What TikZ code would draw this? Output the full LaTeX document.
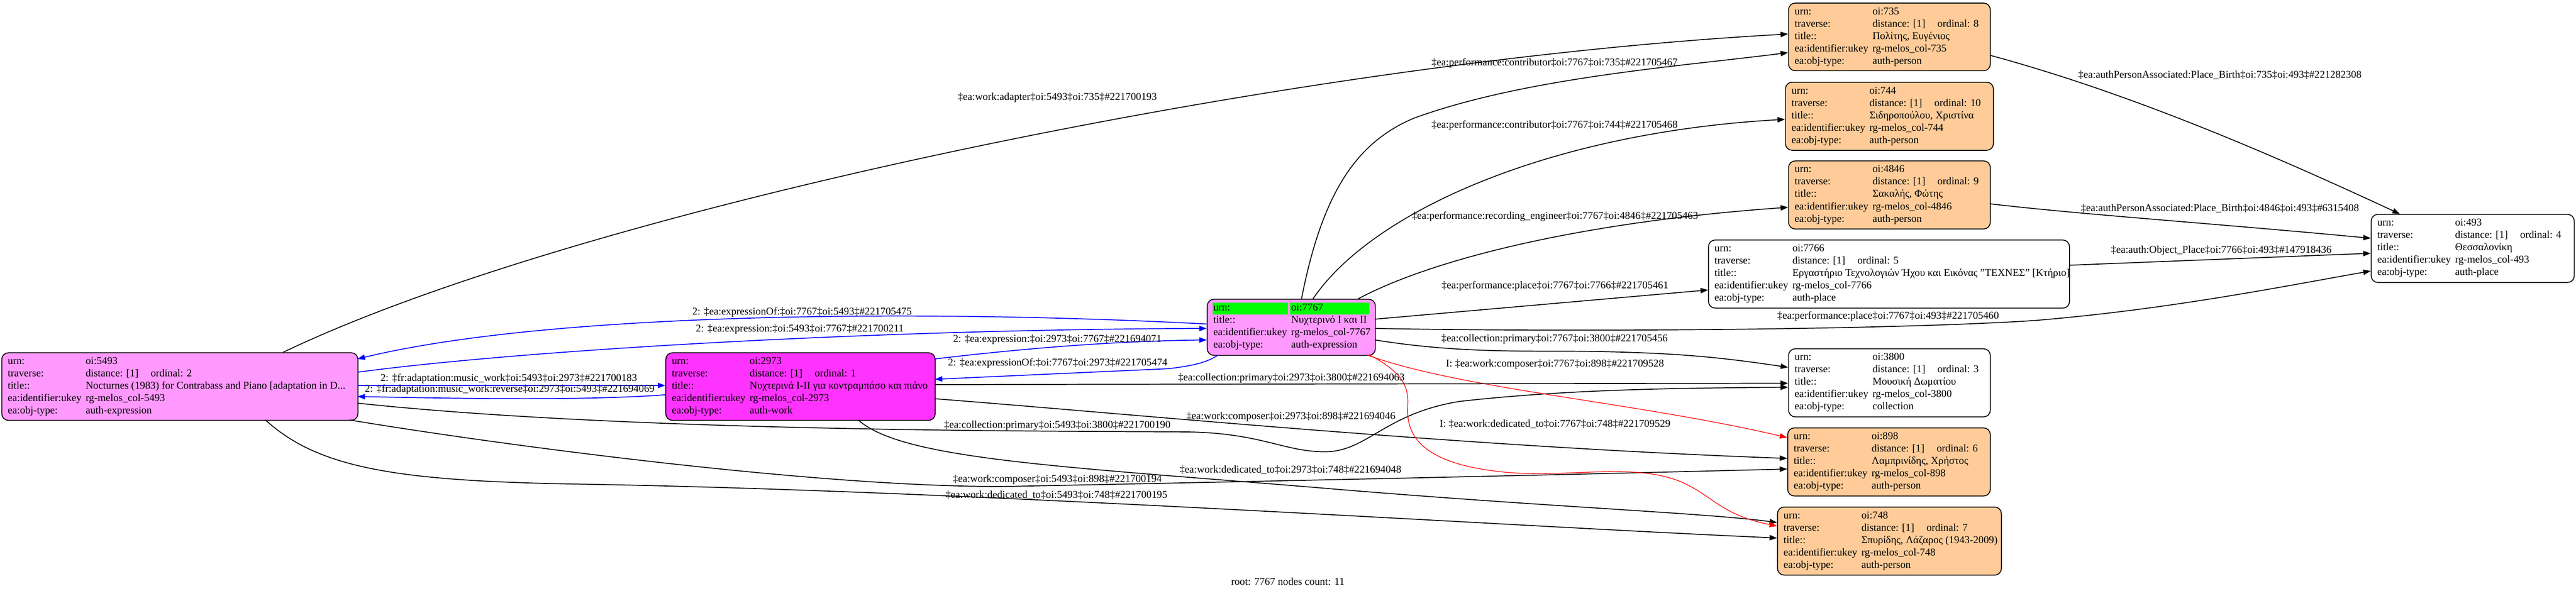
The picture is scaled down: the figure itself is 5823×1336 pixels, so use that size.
\documentclass[tikz,border=0pt]{standalone}
\usepackage{fontspec}
\setmainfont{Liberation Serif}
\usetikzlibrary{arrows.meta,calc}
\definecolor{peach}{HTML}{FFCC99}
\definecolor{pinkx}{HTML}{FF99FF}
\definecolor{magx}{HTML}{FF33FF}
\definecolor{greenx}{HTML}{00FF00}
\newcommand\gfont{\fontsize{6.72pt}{8pt}\selectfont}
\tikzset{
  box/.style={draw=black, line width=0.2mm, rounded corners=1.5mm, inner sep=0pt, anchor=north west},
  txt/.style={anchor=west, inner sep=0pt, font=\gfont, text height=1.65mm, text depth=0.45mm},
  lbl/.style={inner sep=0pt, font=\gfont, text height=1.65mm, text depth=0.45mm},
  ed/.style={line width=0.2mm, draw=black, -{Triangle[length=1.7mm,width=1.2mm]}},
  edb/.style={ed, draw=blue},
  edr/.style={ed, draw=red, line width=0.15mm},
}
\newcommand\gbox[6]{\node[box,fill=#2,minimum width=#5mm,minimum height=#6mm] (#1) at (#3,#4) {};}
\newcommand\rowt[4]{%
  \node[txt] at ($(#1.north west)+(14,{21+28*#2})$) {#3};
  \node[txt] at ($(#1.north west)+(190,{21+28*#2})$) {#4};}
\newcommand\travrow[3]{%
  \node[txt] at ($(#1.north west)+(14,{21+28*#2})$) {traverse:};
  \node[txt] at ($(#1.north west)+(190,{21+28*#2})$) {distance: [1]};
  \node[txt] at ($(#1.north west)+(337,{21+28*#2})$) {ordinal: #3};}
\begin{document}
\begin{tikzpicture}[x=0.1mm,y=-0.1mm]
\useasboundingbox (0,0) rectangle (5823,1336);
% ---------------- boxes ----------------
\gbox{n5493}{pinkx}{3}{797}{80.5}{15.3}
\gbox{n2973}{magx}{1504}{797}{60.9}{15.3}
\gbox{n7767}{pinkx}{2728}{676}{38.0}{12.7}
\gbox{n735}{peach}{4042}{6}{45.6}{15.3}
\gbox{n744}{peach}{4035}{185}{47.0}{15.4}
\gbox{n4846}{peach}{4042}{363}{45.6}{15.4}
\gbox{n7766}{white}{3861}{542}{81.6}{15.4}
\gbox{n3800}{white}{4042}{788}{45.6}{15.4}
\gbox{n898}{peach}{4040}{967}{45.8}{15.4}
\gbox{n748}{peach}{4017}{1146}{50.6}{15.4}
\gbox{n493}{white}{5359}{484}{45.9}{15.4}
% green highlight of root urn row
\fill[greenx] ($(n7767.north west)+(14,9)$) rectangle ($(n7767.north west)+(183,35)$);
\fill[greenx] ($(n7767.north west)+(188,9)$) rectangle ($(n7767.north west)+(367,35)$);
% ---------------- box texts ----------------
\rowt{n5493}{0}{urn:}{oi:5493}
\travrow{n5493}{1}{2}
\rowt{n5493}{2}{title::}{Nocturnes (1983) for Contrabass and Piano [adaptation in D...}
\rowt{n5493}{3}{ea:identifier:ukey}{rg-melos\_col-5493}
\rowt{n5493}{4}{ea:obj-type:}{auth-expression}
\rowt{n2973}{0}{urn:}{oi:2973}
\travrow{n2973}{1}{1}
\rowt{n2973}{2}{title::}{Νυχτερινά Ι-ΙΙ για κοντραμπάσο και πιάνο}
\rowt{n2973}{3}{ea:identifier:ukey}{rg-melos\_col-2973}
\rowt{n2973}{4}{ea:obj-type:}{auth-work}
\rowt{n7767}{0}{urn:}{oi:7767}
\rowt{n7767}{1}{title::}{Νυχτερινό Ι και ΙΙ}
\rowt{n7767}{2}{ea:identifier:ukey}{rg-melos\_col-7767}
\rowt{n7767}{3}{ea:obj-type:}{auth-expression}
\rowt{n735}{0}{urn:}{oi:735}
\travrow{n735}{1}{8}
\rowt{n735}{2}{title::}{Πολίτης, Ευγένιος}
\rowt{n735}{3}{ea:identifier:ukey}{rg-melos\_col-735}
\rowt{n735}{4}{ea:obj-type:}{auth-person}
\rowt{n744}{0}{urn:}{oi:744}
\travrow{n744}{1}{10}
\rowt{n744}{2}{title::}{Σιδηροπούλου, Χριστίνα}
\rowt{n744}{3}{ea:identifier:ukey}{rg-melos\_col-744}
\rowt{n744}{4}{ea:obj-type:}{auth-person}
\rowt{n4846}{0}{urn:}{oi:4846}
\travrow{n4846}{1}{9}
\rowt{n4846}{2}{title::}{Σακαλής, Φώτης}
\rowt{n4846}{3}{ea:identifier:ukey}{rg-melos\_col-4846}
\rowt{n4846}{4}{ea:obj-type:}{auth-person}
\rowt{n7766}{0}{urn:}{oi:7766}
\travrow{n7766}{1}{5}
\rowt{n7766}{2}{title::}{Εργαστήριο Τεχνολογιών Ήχου και Εικόνας "ΤΕΧΝΕΣ" [Κτήριο]}
\rowt{n7766}{3}{ea:identifier:ukey}{rg-melos\_col-7766}
\rowt{n7766}{4}{ea:obj-type:}{auth-place}
\rowt{n3800}{0}{urn:}{oi:3800}
\travrow{n3800}{1}{3}
\rowt{n3800}{2}{title::}{Μουσική Δωματίου}
\rowt{n3800}{3}{ea:identifier:ukey}{rg-melos\_col-3800}
\rowt{n3800}{4}{ea:obj-type:}{collection}
\rowt{n898}{0}{urn:}{oi:898}
\travrow{n898}{1}{6}
\rowt{n898}{2}{title::}{Λαμπρινίδης, Χρήστος}
\rowt{n898}{3}{ea:identifier:ukey}{rg-melos\_col-898}
\rowt{n898}{4}{ea:obj-type:}{auth-person}
\rowt{n748}{0}{urn:}{oi:748}
\travrow{n748}{1}{7}
\rowt{n748}{2}{title::}{Σπυρίδης, Λάζαρος (1943-2009)}
\rowt{n748}{3}{ea:identifier:ukey}{rg-melos\_col-748}
\rowt{n748}{4}{ea:obj-type:}{auth-person}
\rowt{n493}{0}{urn:}{oi:493}
\travrow{n493}{1}{4}
\rowt{n493}{2}{title::}{Θεσσαλονίκη}
\rowt{n493}{3}{ea:identifier:ukey}{rg-melos\_col-493}
\rowt{n493}{4}{ea:obj-type:}{auth-place}
% ---------------- edges ----------------
\draw[ed] ($(n5493.north west)+(637,0)$) .. controls (1300,480) and (2900,140) .. ($(n735.north west)+(0,71)$);
\draw[edb] ($(n7767.north west)+(0,57)$) .. controls (2100,700) and (1250,705) .. ($(n5493.north west)+(805,15)$);
\draw[edb] ($(n5493.north west)+(805,45)$) .. controls (1200,790) and (2000,745) .. ($(n7767.north west)+(0,67)$);
\draw[edb] ($(n2973.north west)+(609,15)$) .. controls (2300,790) and (2500,772) .. ($(n7767.north west)+(0,93)$);
\draw[edb] ($(n7767.north west)+(26,127)$) .. controls (2725,822) and (2690,828) .. (2642,834) -- ($(n2973.north west)+(609,61)$);
\draw[edb] ($(n5493.north west)+(805,75)$) -- ($(n2973.north west)+(0,75)$);
\draw[edb] ($(n2973.north west)+(0,96)$) .. controls (1350,905) and (1100,903) .. ($(n5493.north west)+(805,100)$);
\draw[ed] ($(n5493.north west)+(805,115)$) .. controls (1400,975) and (2300,975) .. (2674,977)
   .. controls (2850,978) and (2900,1022) .. (2995,1022)
   .. controls (3090,1022) and (3130,935) .. (3300,908)
   .. controls (3550,880) and (3800,878) .. ($(n3800.north west)+(0,88)$);
\draw[ed] ($(n5493.north west)+(787,153)$) .. controls (1150,1010) and (1900,1108) .. (2300,1100)
   .. controls (2800,1090) and (3500,1075) .. ($(n898.north west)+(0,94)$);
\draw[ed] ($(n2973.north west)+(609,105)$) .. controls (2600,940) and (3300,1010) .. ($(n898.north west)+(0,70)$);
\draw[ed] ($(n2973.north west)+(436,153)$) .. controls (2040,1040) and (2400,1055) .. (3000,1105)
   .. controls (3500,1147) and (3850,1160) .. ($(n748.north west)+(0,36)$);
\draw[ed] ($(n5493.north west)+(597,153)$) .. controls (720,1060) and (900,1088) .. (1300,1095)
   .. controls (2200,1110) and (3400,1190) .. ($(n748.north west)+(0,71)$);
\draw[ed] ($(n7767.north west)+(214,0)$) .. controls (2990,430) and (3070,320) .. (3197,267)
   .. controls (3450,175) and (3800,150) .. ($(n735.north west)+(0,113)$);
\draw[ed] ($(n7767.north west)+(240,0)$) .. controls (3100,480) and (3500,300) .. ($(n744.north west)+(0,85)$);
\draw[ed] ($(n7767.north west)+(342,0)$) .. controls (3250,580) and (3600,500) .. ($(n4846.north west)+(0,106)$);
\draw[ed] ($(n7767.north west)+(380,46)$) -- ($(n7766.north west)+(0,114)$);
\draw[ed] ($(n7767.north west)+(380,67)$) .. controls (3600,752) and (4300,745) .. (4600,725)
   .. controls (4900,700) and (5150,650) .. ($(n493.north west)+(0,129)$);
\draw[ed] ($(n7767.north west)+(380,93)$) .. controls (3300,800) and (3450,793) .. (3593,795)
   .. controls (3800,798) and (3900,810) .. ($(n3800.north west)+(0,43)$);
\draw[edr] ($(n7767.north west)+(362,127)$) .. controls (3300,880) and (3700,910) .. ($(n898.north west)+(0,23)$);
\draw[edr] ($(n7767.north west)+(368,127)$) .. controls (3165,840) and (3186,870) .. (3182,920)
   .. controls (3178,990) and (3220,1050) .. (3400,1068)
   .. controls (3550,1082) and (3690,1045) .. (3800,1090)
   .. controls (3870,1120) and (3890,1165) .. ($(n748.north west)+(0,44)$);
\draw[ed] ($(n735.north west)+(456,119)$) .. controls (4850,220) and (5200,380) .. ($(n493.north west)+(66,0)$);
\draw[ed] ($(n4846.north west)+(456,98)$) .. controls (4700,485) and (5000,505) .. ($(n493.north west)+(0,55)$);
\draw[ed] ($(n7766.north west)+(816,58)$) -- ($(n493.north west)+(0,89)$);
\draw[ed] ($(n2973.north west)+(609,73)$) -- ($(n3800.north west)+(0,79)$);
% ---------------- edge labels ----------------
\node[lbl] (l1) at (2390,221) {‡ea:work:adapter‡oi:5493‡oi:735‡\#221700193};
\node[lbl] (l2) at (3514,142) {‡ea:performance:contributor‡oi:7767‡oi:735‡\#221705467};
\node[lbl] (l3) at (3514,283) {‡ea:performance:contributor‡oi:7767‡oi:744‡\#221705468};
\node[lbl] (l4) at (3515,489) {‡ea:performance:recording\_engineer‡oi:7767‡oi:4846‡\#221705463};
\node[lbl] (l5) at (5018,170) {‡ea:authPersonAssociated:Place\_Birth‡oi:735‡oi:493‡\#221282308};
\node[lbl] (l6) at (5018,472) {‡ea:authPersonAssociated:Place\_Birth‡oi:4846‡oi:493‡\#6315408};
\node[lbl] (l7) at (5021,566) {‡ea:auth:Object\_Place‡oi:7766‡oi:493‡\#147918436};
\node[lbl] (l8) at (3515,647) {‡ea:performance:place‡oi:7767‡oi:7766‡\#221705461};
\node[lbl] (l9) at (4268,716) {‡ea:performance:place‡oi:7767‡oi:493‡\#221705460};
\node[lbl] (l10) at (1813,706) {2: ‡ea:expressionOf:‡oi:7767‡oi:5493‡\#221705475};
\node[lbl] (l11) at (1808,745) {2: ‡ea:expression:‡oi:5493‡oi:7767‡\#221700211};
\node[lbl] (l12) at (2390,768) {2: ‡ea:expression:‡oi:2973‡oi:7767‡\#221694071};
\node[lbl] (l13) at (2391,822) {2: ‡ea:expressionOf:‡oi:7767‡oi:2973‡\#221705474};
\node[lbl] (l14) at (3514,767) {‡ea:collection:primary‡oi:7767‡oi:3800‡\#221705456};
\node[lbl] (l15) at (3515,824) {I: ‡ea:work:composer‡oi:7767‡oi:898‡\#221709528};
\node[lbl] (l16) at (2919,855) {‡ea:collection:primary‡oi:2973‡oi:3800‡\#221694063};
\node[lbl] (l17) at (1150,856) {2: ‡fr:adaptation:music\_work‡oi:5493‡oi:2973‡\#221700183};
\node[lbl] (l18) at (1152,881) {2: ‡fr:adaptation:music\_work:reverse‡oi:2973‡oi:5493‡\#221694069};
\node[lbl] (l19) at (2390,962) {‡ea:collection:primary‡oi:5493‡oi:3800‡\#221700190};
\node[lbl] (l20) at (2918,943) {‡ea:work:composer‡oi:2973‡oi:898‡\#221694046};
\node[lbl] (l21) at (3515,960) {I: ‡ea:work:dedicated\_to‡oi:7767‡oi:748‡\#221709529};
\node[lbl] (l22) at (2917,1064) {‡ea:work:dedicated\_to‡oi:2973‡oi:748‡\#221694048};
\node[lbl] (l23) at (2390,1085) {‡ea:work:composer‡oi:5493‡oi:898‡\#221700194};
\node[lbl] (l24) at (2388,1121) {‡ea:work:dedicated\_to‡oi:5493‡oi:748‡\#221700195};
\node[lbl] (cap) at (2911,1317) {root: 7767 nodes count: 11};
\end{tikzpicture}
\end{document}
